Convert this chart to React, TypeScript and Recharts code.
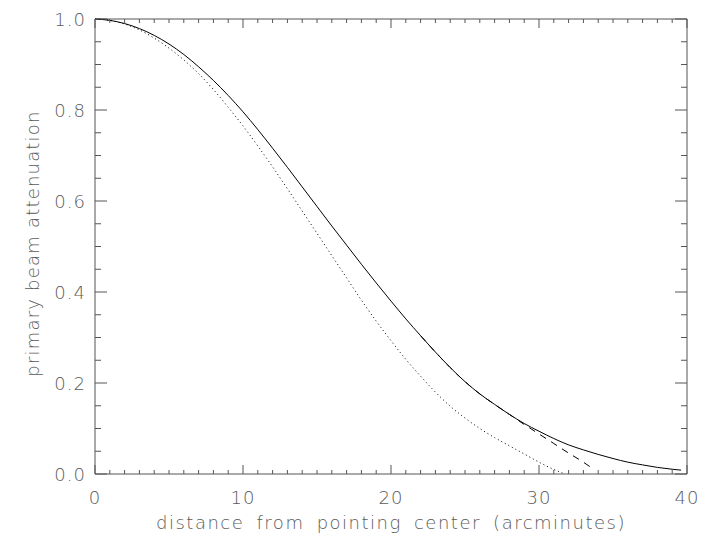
import { LineChart, Line, XAxis, YAxis, ReferenceLine } from 'recharts';

// distance from pointing center (arcmin) / attenuation
const solidX = [0, 1, 2, 3, 4, 5, 6, 7, 8, 9, 10, 11, 12, 13, 14, 15, 16, 17, 18, 19, 20, 21, 22, 23, 24, 25, 26, 27, 28, 29, 30, 31, 32, 33, 34, 35, 36, 37, 38, 39, 39.6];
const solidY = [1.0, 0.997, 0.99, 0.979, 0.964, 0.945, 0.922, 0.895, 0.865, 0.832, 0.796, 0.757, 0.716, 0.674, 0.631, 0.588, 0.545, 0.503, 0.461, 0.42, 0.38, 0.341, 0.304, 0.268, 0.234, 0.203, 0.176, 0.153, 0.131, 0.111, 0.094, 0.078, 0.064, 0.053, 0.043, 0.034, 0.026, 0.02, 0.0145, 0.0105, 0.0085];

const dashedX = [22, 23, 24, 25, 26, 27, 28, 29, 30, 31, 32, 33, 33.7];
const dashedY = [0.304, 0.268, 0.234, 0.203, 0.176, 0.153, 0.131, 0.109, 0.088, 0.067, 0.046, 0.026, 0.01];

const dottedX = [0, 1, 2, 3, 4, 5, 6, 7, 8, 9, 10, 11, 12, 13, 14, 15, 16, 17, 18, 19, 20, 21, 22, 23, 24, 25, 26, 27, 28, 29, 30, 31, 31.6];
const dottedY = [1.0, 0.997, 0.989, 0.976, 0.958, 0.936, 0.91, 0.88, 0.845, 0.806, 0.765, 0.721, 0.675, 0.627, 0.578, 0.529, 0.48, 0.431, 0.382, 0.336, 0.293, 0.252, 0.215, 0.18, 0.149, 0.123, 0.1, 0.08, 0.062, 0.044, 0.026, 0.01, 0.002];

const xTicks = [0, 1, 2, 3, 4, 5, 6, 7, 8, 9, 10, 11, 12, 13, 14, 15, 16, 17, 18, 19, 20, 21, 22, 23, 24, 25, 26, 27, 28, 29, 30, 31, 32, 33, 34, 35, 36, 37, 38, 39, 40];
const yTicks = [0, 0.05, 0.1, 0.15, 0.2, 0.25, 0.3, 0.35, 0.4, 0.45, 0.5, 0.55, 0.6, 0.65, 0.7, 0.75, 0.8, 0.85, 0.9, 0.95, 1.0];

const xTitle = 'distance from pointing center (arcminutes)';
const yTitle = 'primary beam attenuation';

const toPoints = (xs: number[], ys: number[]) => xs.map((x, i) => ({ x, y: ys[i] }));

const W = 717;
const H = 544;
const TOP = 19;
const LEFT = 95;
const RIGHT = 687;
const BOTTOM = 474;
const Y_AXIS_W = 60;

const AXIS = '#555';
const TEXT = '#5a5a5a';
const FONT = '"DejaVu Sans ExtraLight", "DejaVu Sans", sans-serif';
const FW = 200;
const FS = 18;

const XTick = (props: any) => {
  const { x, payload } = props;
  const v = payload.value as number;
  const major = v % 10 === 0;
  const len = major ? 9 : 4;
  return (
    <g>
      <line x1={x} x2={x} y1={BOTTOM} y2={BOTTOM - len} stroke={AXIS} />
      <line x1={x} x2={x} y1={TOP} y2={TOP + len} stroke={AXIS} />
      {major && (
        <text x={x} y={BOTTOM + 30} textAnchor="middle" fill={TEXT} fontSize={FS} fontFamily={FONT} fontWeight={FW} letterSpacing={1}>
          {v}
        </text>
      )}
    </g>
  );
};

const YTick = (props: any) => {
  const { y, payload } = props;
  const v = payload.value as number;
  const major = Math.abs(v * 5 - Math.round(v * 5)) < 1e-6;
  const len = major ? 12 : 6;
  return (
    <g>
      <line x1={LEFT} x2={LEFT + len} y1={y} y2={y} stroke={AXIS} />
      <line x1={RIGHT} x2={RIGHT - len} y1={y} y2={y} stroke={AXIS} />
      {major && (
        <text x={LEFT - 9} y={y + 7} textAnchor="end" fill={TEXT} fontSize={FS} fontFamily={FONT} fontWeight={FW} letterSpacing={1}>
          {v.toFixed(1)}
        </text>
      )}
    </g>
  );
};

const XTitle = (props: any) => {
  const { viewBox } = props;
  const cx = viewBox.x + viewBox.width / 2;
  return (
    <text
      x={cx}
      y={BOTTOM + 55}
      textAnchor="middle"
      fill={TEXT}
      fontSize={FS}
      fontFamily={FONT}
      fontWeight={FW}
      letterSpacing={1.5}
      wordSpacing={5}
    >
      {xTitle}
    </text>
  );
};

const YTitle = (props: any) => {
  const { viewBox } = props;
  const cy = viewBox.y + viewBox.height / 2 - 3;
  return (
    <text
      x={39}
      y={cy}
      transform={`rotate(-90, 39, ${cy})`}
      textAnchor="middle"
      fill={TEXT}
      fontSize={FS}
      fontFamily={FONT}
      fontWeight={FW}
      letterSpacing={1.2}
    >
      {yTitle}
    </text>
  );
};

export default function App() {
  return (
    <div style={{ position: 'absolute', left: 0, top: 0, width: W, height: H, background: '#fff' }}>
      <LineChart
        width={W}
        height={H}
        margin={{ top: TOP, right: W - RIGHT, bottom: H - BOTTOM - 40, left: LEFT - Y_AXIS_W }}
      >
        <XAxis
          dataKey="x"
          type="number"
          domain={[0, 40]}
          ticks={xTicks}
          interval={0}
          tickSize={0}
          tickMargin={0}
          height={40}
          tickLine={false}
          axisLine={{ stroke: AXIS }}
          tick={<XTick />}
          label={<XTitle />}
          allowDecimals
        />
        <YAxis
          type="number"
          domain={[0, 1]}
          ticks={yTicks}
          interval={0}
          tickSize={0}
          tickMargin={0}
          width={Y_AXIS_W}
          tickLine={false}
          axisLine={{ stroke: AXIS }}
          tick={<YTick />}
          label={<YTitle />}
        />
        <ReferenceLine y={1} stroke={AXIS} ifOverflow="extendDomain" />
        <ReferenceLine x={40} stroke={AXIS} ifOverflow="extendDomain" />
        <Line
          data={toPoints(solidX, solidY)}
          dataKey="y"
          type="monotone"
          stroke="#000"
          strokeWidth={1}
          dot={false}
          isAnimationActive={false}
        />
        <Line
          data={toPoints(dashedX, dashedY)}
          dataKey="y"
          type="monotone"
          stroke="#000"
          strokeWidth={1}
          strokeDasharray="7 6"
          dot={false}
          isAnimationActive={false}
        />
        <Line
          data={toPoints(dottedX, dottedY)}
          dataKey="y"
          type="monotone"
          stroke="#000"
          strokeWidth={1}
          strokeDasharray="1 3"
          dot={false}
          isAnimationActive={false}
        />
      </LineChart>
    </div>
  );
}
